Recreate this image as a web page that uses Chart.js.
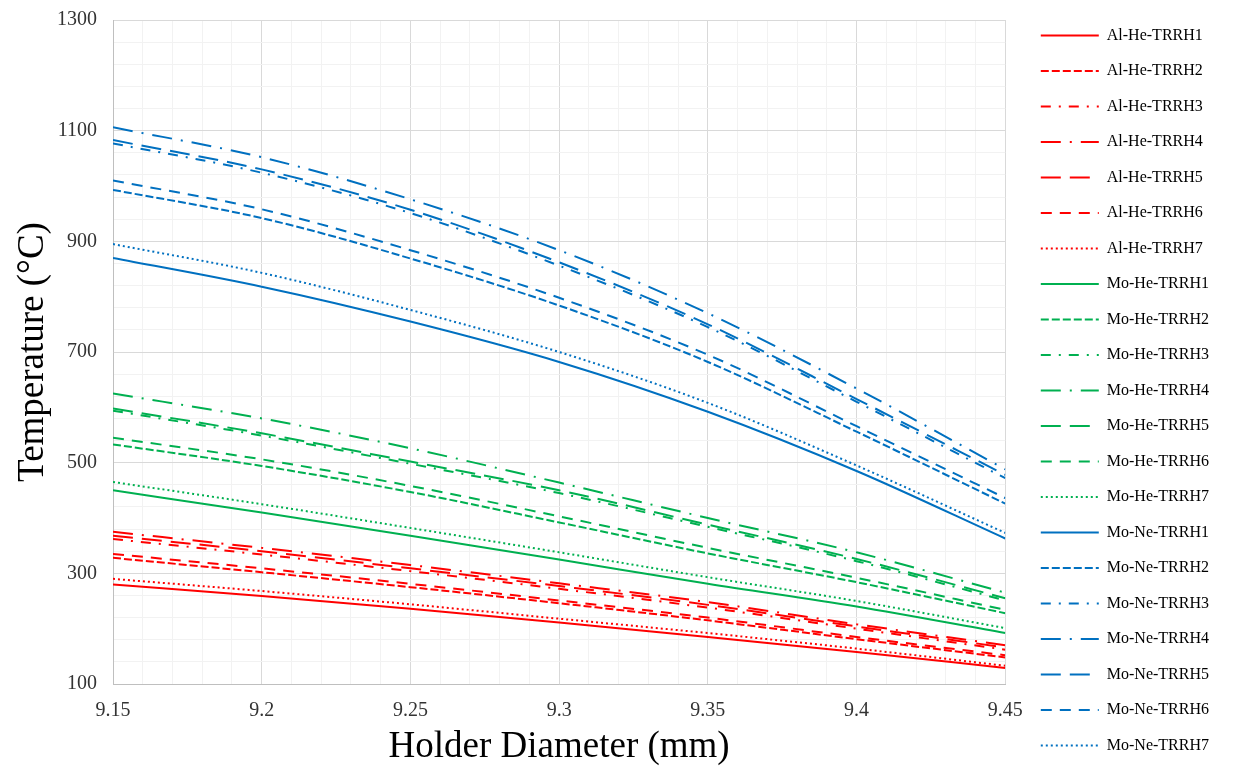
<!DOCTYPE html>
<html>
<head>
<meta charset="utf-8">
<script src="https://cdn.jsdelivr.net/npm/chart.js@4/dist/chart.umd.min.js"></script>
<style>
  body { margin: 0; background: #fff; }
  canvas { display: block; }
</style>
</head>
<body>
<canvas id="chart" width="1237" height="768"></canvas>
<script>
// holder diameter (mm)
var xValues = [9.15, 9.20, 9.25, 9.30, 9.35, 9.40, 9.45];

// tick labels
var xMajorTicks = [9.15, 9.2, 9.25, 9.3, 9.35, 9.4, 9.45];
var yMajorTicks = [100, 300, 500, 700, 900, 1100, 1300];

// Al-He
var alHe1 = [280, 259, 236, 211, 185, 158, 129];
var alHe2 = [328, 302, 275, 246, 215, 181, 148];
var alHe3 = [362, 334, 304, 272, 238, 200, 162];
var alHe4 = [375, 346, 315, 282, 248, 208, 170];
var alHe5 = [368, 340, 309, 277, 243, 204, 166];
var alHe6 = [335, 309, 281, 251, 220, 185, 152];
var alHe7 = [290, 268, 244, 218, 192, 164, 133];

// Mo-He
var moHe1 = [450, 410, 368, 325, 281, 240, 192];
var moHe2 = [533, 494, 447, 392, 336, 284, 228];
var moHe3 = [594, 549, 498, 445, 384, 322, 251];
var moHe4 = [625, 580, 526, 464, 400, 338, 265];
var moHe5 = [598, 553, 502, 450, 388, 326, 255];
var moHe6 = [545, 506, 458, 403, 346, 292, 234];
var moHe7 = [465, 425, 382, 338, 293, 250, 201];

// Mo-Ne
var moNe1 = [870, 818, 755, 682, 592, 485, 363];
var moNe2 = [993, 942, 869, 784, 682, 556, 426];
var moNe3 = [1077, 1024, 951, 856, 745, 610, 472];
var moNe4 = [1106, 1052, 976, 884, 770, 634, 488];
var moNe5 = [1083, 1030, 957, 862, 750, 615, 478];
var moNe6 = [1010, 958, 884, 798, 695, 566, 436];
var moNe7 = [895, 843, 776, 700, 608, 495, 373];

var groups = [
  { name: 'Al-He', color: '#FF0000', series: [alHe1, alHe2, alHe3, alHe4, alHe5, alHe6, alHe7] },
  { name: 'Mo-He', color: '#00B050', series: [moHe1, moHe2, moHe3, moHe4, moHe5, moHe6, moHe7] },
  { name: 'Mo-Ne', color: '#0070C0', series: [moNe1, moNe2, moNe3, moNe4, moNe5, moNe6, moNe7] }
];

// line styles for TRRH1..7
var dashes = [[], [8, 3], [10, 8, 2, 8], [20, 9, 2, 9], [20, 9], [11, 8], [2, 3]];

var datasets = [];
groups.forEach(function(g) {
  g.series.forEach(function(vals, i) {
    datasets.push({
      label: g.name + '-TRRH' + (i + 1),
      data: xValues.map(function(x, j) { return { x: x, y: vals[j] }; }),
      borderColor: g.color,
      backgroundColor: g.color,
      borderWidth: 2,
      borderDash: dashes[i],
      pointRadius: 0,
      cubicInterpolationMode: 'monotone',
      fill: false
    });
  });
});

// minor gridline positions (5 per major interval)
function subdivide(majors, n, digits) {
  var out = [];
  for (var i = 0; i < majors.length - 1; i++) {
    var step = (majors[i + 1] - majors[i]) / n;
    for (var k = 0; k < n; k++) {
      out.push(Number((majors[i] + k * step).toFixed(digits)));
    }
  }
  out.push(majors[majors.length - 1]);
  return out;
}
var xGridTicks = subdivide(xMajorTicks, 5, 2);
var yGridTicks = subdivide(yMajorTicks, 5, 0);

function isMajor(list, v) {
  return list.some(function(m) { return Math.abs(m - v) < 1e-6; });
}

Chart.defaults.font.family = '"Liberation Serif", "Times New Roman", serif';
Chart.defaults.color = '#333';

var ctx = document.getElementById('chart').getContext('2d');
var chart = new Chart(ctx, {
  type: 'line',
  data: { datasets: datasets },
  options: {
    responsive: false,
    animation: false,
    layout: { padding: { left: 0, right: 18, top: 0, bottom: -5 } },
    plugins: {
      tooltip: { enabled: false },
      legend: {
        position: 'right',
        align: 'end',
        labels: {
          usePointStyle: true,
          pointStyle: 'line',
          pointStyleWidth: 58,
          padding: 19.5,
          color: '#000',
          font: { size: 16 },
          generateLabels: function(chart) {
            var items = Chart.defaults.plugins.legend.labels.generateLabels(chart);
            items.forEach(function(it) {
              var ds = chart.data.datasets[it.datasetIndex];
              it.lineDash = ds.borderDash;
              it.strokeStyle = ds.borderColor;
              it.lineWidth = ds.borderWidth;
            });
            return items;
          }
        }
      }
    },
    scales: {
      x: {
        type: 'linear',
        min: 9.15,
        max: 9.45,
        afterBuildTicks: function(s) { s.ticks = xGridTicks.map(function(v) { return { value: v }; }); },
        afterFit: function(s) { s.height = 89; },
        grid: {
          drawTicks: false,
          color: function(c) { return isMajor(xMajorTicks, c.tick.value) ? '#D9D9D9' : '#F2F2F2'; }
        },
        border: { color: '#BFBFBF' },
        ticks: {
          autoSkip: false,
          maxRotation: 0,
          padding: 15,
          font: { size: 20 },
          callback: function(v) { return isMajor(xMajorTicks, v) ? String(Math.round(v * 100) / 100) : ''; }
        },
        title: {
          display: true,
          text: 'Holder Diameter (mm)',
          color: '#000',
          font: { size: 37 },
          padding: { top: 2, bottom: 4 }
        }
      },
      y: {
        type: 'linear',
        min: 100,
        max: 1300,
        afterBuildTicks: function(s) { s.ticks = yGridTicks.map(function(v) { return { value: v }; }); },
        afterFit: function(s) { s.width = 113; },
        grid: {
          drawTicks: false,
          color: function(c) { return isMajor(yMajorTicks, c.tick.value) ? '#D9D9D9' : '#F2F2F2'; }
        },
        border: { color: '#BFBFBF' },
        ticks: {
          autoSkip: false,
          padding: 16,
          font: { size: 20, lineHeight: 0.4 },
          callback: function(v) { return isMajor(yMajorTicks, v) ? String(v) : ''; }
        },
        title: {
          display: true,
          text: 'Temperature (°C)',
          color: '#000',
          font: { size: 37 },
          padding: { top: 11, bottom: 4 }
        }
      },
      // spacer axes: top margin and gap before the legend
      xTop: {
        type: 'linear',
        position: 'top',
        display: true,
        grid: { display: false },
        border: { display: false },
        ticks: { display: false },
        afterFit: function(s) { s.height = 20; }
      },
      yRight: {
        type: 'linear',
        position: 'right',
        display: true,
        grid: { display: false },
        border: { display: false },
        ticks: { display: false },
        afterFit: function(s) { s.width = 16; }
      }
    }
  }
});
</script>
</body>
</html>
